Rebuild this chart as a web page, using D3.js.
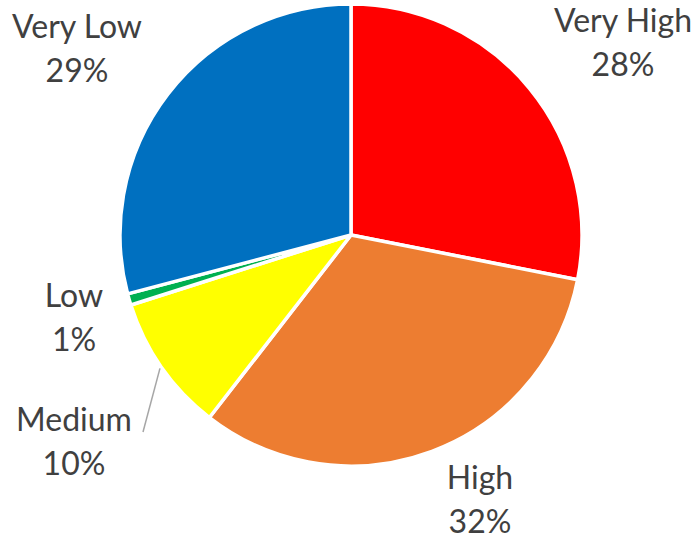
<!DOCTYPE html>
<html>
<head>
<meta charset="utf-8">
<script src="https://cdn.jsdelivr.net/npm/d3@7"></script>
<style>
  body { margin: 0; background: #fff; }
  .lbl { font-family: Lato, "Open Sans", sans-serif; font-size: 32px; fill: #404040; }
</style>
</head>
<body>
<div id="chart"></div>
<script>
const categories = ['Very High', 'High', 'Medium', 'Low', 'Very Low']
const values = [28.1, 32.4, 9.6, 0.8, 29.1]
const colors = ['#FF0000', '#ED7D31', '#FFFF00', '#00B050', '#0070C0']

const width = 699, height = 535
const cx = 351, cy = 235, radius = 231

// label anchors relative to the pie centre (Excel puts them by hand-ish "best fit")
const labelOffset = {
  'Very High': [272, -200],
  'High': [129, 257],
  'Medium': [-277, 199],
  'Low': [-277, 75],
  'Very Low': [-274, -194]
}

const svg = d3.select('#chart').append('svg')
  .attr('width', width)
  .attr('height', height)

const g = svg.append('g')
  .attr('transform', 'translate(' + cx + ',' + cy + ')')

const data = categories.map((c, i) => ({ cat: c, value: values[i], color: colors[i] }))
const total = d3.sum(values)

const pie = d3.pie().sort(null).value(d => d.value)
const arc = d3.arc().innerRadius(0).outerRadius(radius)
const arcs = pie(data)

g.selectAll('path')
  .data(arcs)
  .enter().append('path')
  .attr('d', arc)
  .attr('fill', d => d.data.color)
  .attr('stroke', '#fff')
  .attr('stroke-width', 3.5)
  .attr('stroke-linejoin', 'round')

// leader line for Medium
const med = arcs[2]
const medAngle = (med.startAngle + med.endAngle) / 2
const lineStart = [Math.sin(medAngle) * (radius + 2), -Math.cos(medAngle) * (radius + 2)]
g.append('line')
  .attr('x1', lineStart[0])
  .attr('y1', lineStart[1])
  .attr('x2', labelOffset['Medium'][0] + 69)
  .attr('y2', labelOffset['Medium'][1] - 2)
  .attr('stroke', '#A6A6A6')
  .attr('stroke-width', 1.5)

const labels = g.selectAll('text.lbl')
  .data(arcs)
  .enter().append('text')
  .attr('class', 'lbl')
  .attr('text-anchor', 'middle')
  .attr('transform', d => 'translate(' + labelOffset[d.data.cat][0] + ',' + labelOffset[d.data.cat][1] + ')')

labels.append('tspan')
  .attr('x', 0)
  .attr('dy', '-0.1em')
  .text(d => d.data.cat)
labels.append('tspan')
  .attr('x', 0)
  .attr('dy', 44)
  .text(d => Math.round(d.data.value / total * 100) + '%')
</script>
</body>
</html>
